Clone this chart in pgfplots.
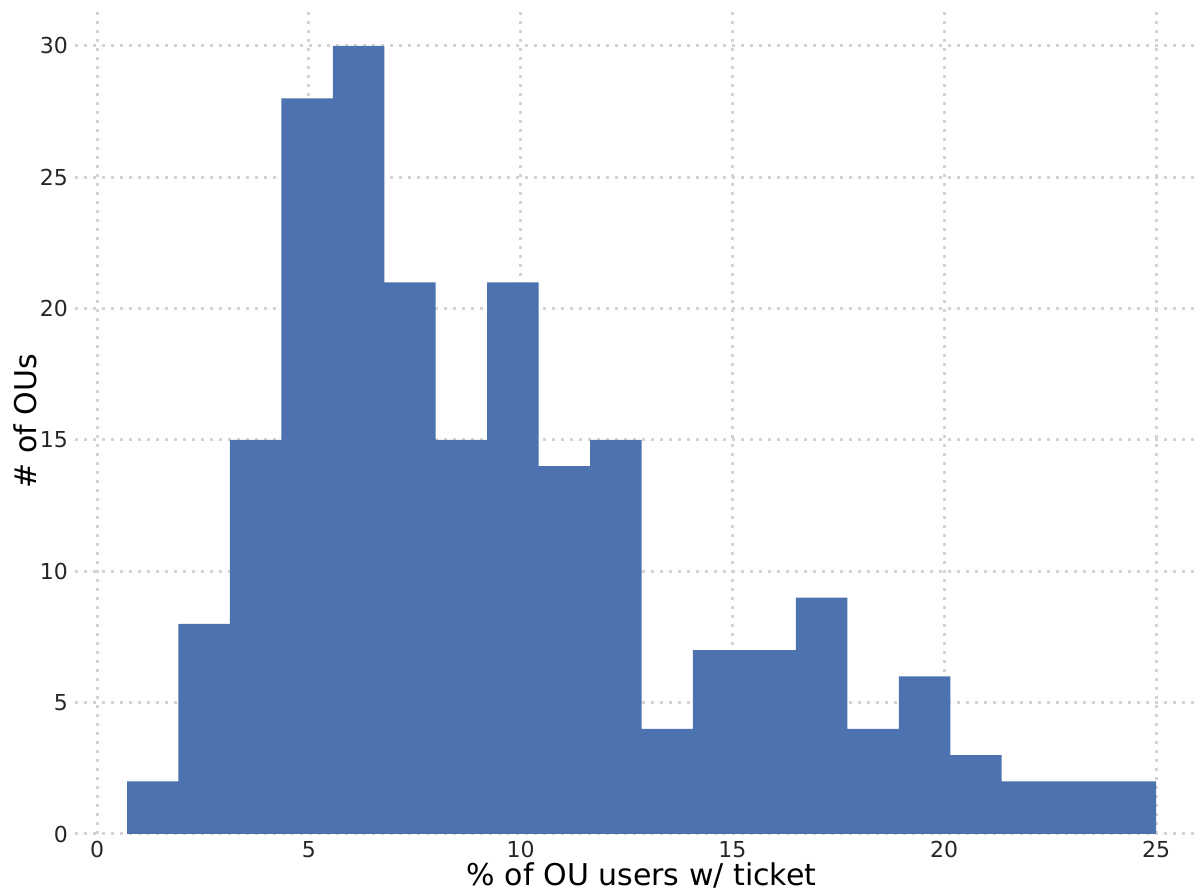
\documentclass[border=0pt]{standalone}
\usepackage{pgfplots}
\pgfplotsset{compat=1.18}
\usepackage{fontspec}
\setmainfont{DejaVu Sans}
\definecolor{barblue}{HTML}{4C72B0}
\definecolor{tickgray}{HTML}{262626}
\definecolor{gridgray}{HTML}{D4D4D4}
\begin{document}
\begin{tikzpicture}
\begin{axis}[
    scale only axis,
    width=560pt, height=413pt,
    xmin=-0.52, xmax=25.92,
    ymin=0, ymax=31.44,
    xtick={0,5,10,15,20,25},
    ytick={0,5,10,15,20,25,30},
    axis line style={draw=none},
    major tick length=0pt,
    grid=major,
    grid style={gridgray, line width=1.5pt, dash pattern=on 1.5pt off 3pt},
    tick label style={font=\fontsize{11}{13}\selectfont, text=tickgray},
    /pgf/number format/assume math mode=true,
    xlabel={\% of OU users w/ ticket},
    ylabel={\# of OUs},
    label style={font=\fontsize{15}{18}\selectfont, text=black},
    xlabel style={at={([yshift=-26pt]axis description cs:0.506,0)}, anchor=base},
    ylabel style={at={([xshift=-25pt]axis description cs:0,0.5)}, anchor=center},
]
\addplot[ybar interval, fill=barblue, draw=none] coordinates {
    (0.708,2) (1.923,8) (3.137,15) (4.352,28) (5.566,30)
    (6.781,21) (7.996,15) (9.210,21) (10.425,14) (11.639,15)
    (12.854,4) (14.069,7) (15.283,7) (16.498,9) (17.712,4)
    (18.927,6) (20.142,3) (21.356,2) (22.571,2) (23.785,2)
    (25.000,2)
};
\end{axis}
\pgfresetboundingbox
\path[use as bounding box] ([xshift=-37.5pt,yshift=-29pt]current axis.south west) rectangle ([xshift=2pt,yshift=4pt]current axis.north east);
\end{tikzpicture}
\end{document}
